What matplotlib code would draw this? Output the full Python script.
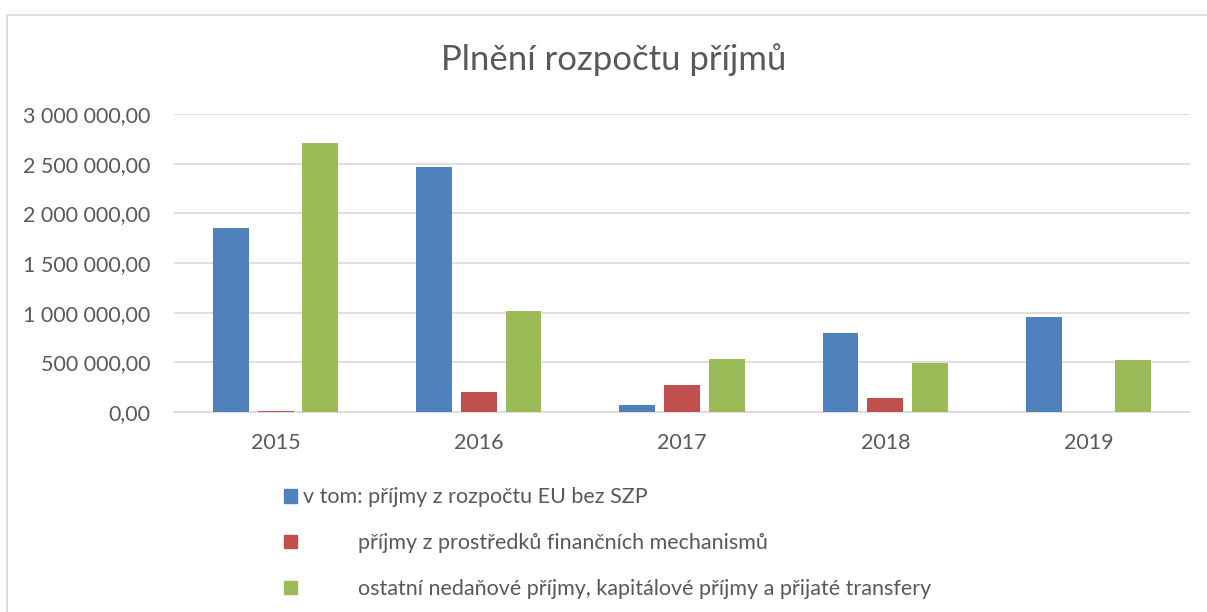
import matplotlib.pyplot as plt
import matplotlib.patches as mpatches
from matplotlib.ticker import FuncFormatter
import numpy as np

plt.rcParams['font.family'] = ['Lato', 'DejaVu Sans']

# data
years = ['2015', '2016', '2017', '2018', '2019']
eu = [1855000, 2466000, 67000, 798000, 960000]
fin_mech = [15000, 201000, 268000, 138000, 0]
ostatni = [2708000, 1017000, 530000, 497000, 527000]
labels = ['v tom: příjmy z rozpočtu EU bez SZP',
          'příjmy z prostředků finančních mechanismů',
          'ostatní nedaňové příjmy, kapitálové příjmy a přijaté transfery']
colors = ['#4F81BD', '#C0504D', '#9BBB59']
txt_color = '#595959'

fig = plt.figure(figsize=(12.07, 6.12), dpi=100)
ax = fig.add_axes([0.1442, 0.3268, 0.8418, 0.4869])

# chart border
fig.patches.append(mpatches.Rectangle((7 / 1207, -0.1), 1.1, (612 - 15) / 612 + 0.1,
                                      transform=fig.transFigure, fill=False,
                                      edgecolor='#D9D9D9', linewidth=1.2))

x = np.arange(len(years))
w = 0.176
step = 0.22
series = [eu, fin_mech, ostatni]
for i, (vals, c, lab) in enumerate(zip(series, colors, labels)):
    ax.bar(x + (i - 1) * step, vals, w, color=c, label=lab, zorder=3)

ax.set_xlim(-0.5, 4.5)
ax.set_ylim(0, 3000000)
ax.set_yticks(np.arange(0, 3000001, 500000))
ax.yaxis.set_major_formatter(FuncFormatter(
    lambda v, p: '{:,.2f}'.format(v).replace(',', ' ').replace('.', ',')))
ax.set_xticks(x)
ax.set_xticklabels(years)
ax.tick_params(axis='both', length=0, labelsize=15.5, labelcolor=txt_color)
ax.tick_params(axis='y', pad=17)
ax.tick_params(axis='x', pad=15)
ax.grid(axis='y', color='#D9D9D9', linewidth=1.2, zorder=0)
for s in ['top', 'right', 'left']:
    ax.spines[s].set_visible(False)
ax.spines['bottom'].set_color('#D9D9D9')
ax.spines['bottom'].set_linewidth(1.2)

fig.text(0.5085, 1 - 60 / 612, 'Plnění rozpočtu příjmů', ha='center', va='center',
         fontsize=25, color=txt_color)

# legend
handles = [mpatches.Patch(color=c) for c in colors]
leg_labels = [labels[0], '          ' + labels[1], '          ' + labels[2]]
leg = fig.legend(handles, leg_labels, loc='upper left', bbox_to_anchor=(265 / 1207, 1 - 468 / 612),
                 frameon=False, fontsize=15.5, labelcolor=txt_color, handlelength=0.6,
                 handleheight=0.6, handletextpad=0.25, labelspacing=1.2)

fig.savefig('out.png', dpi=100)
